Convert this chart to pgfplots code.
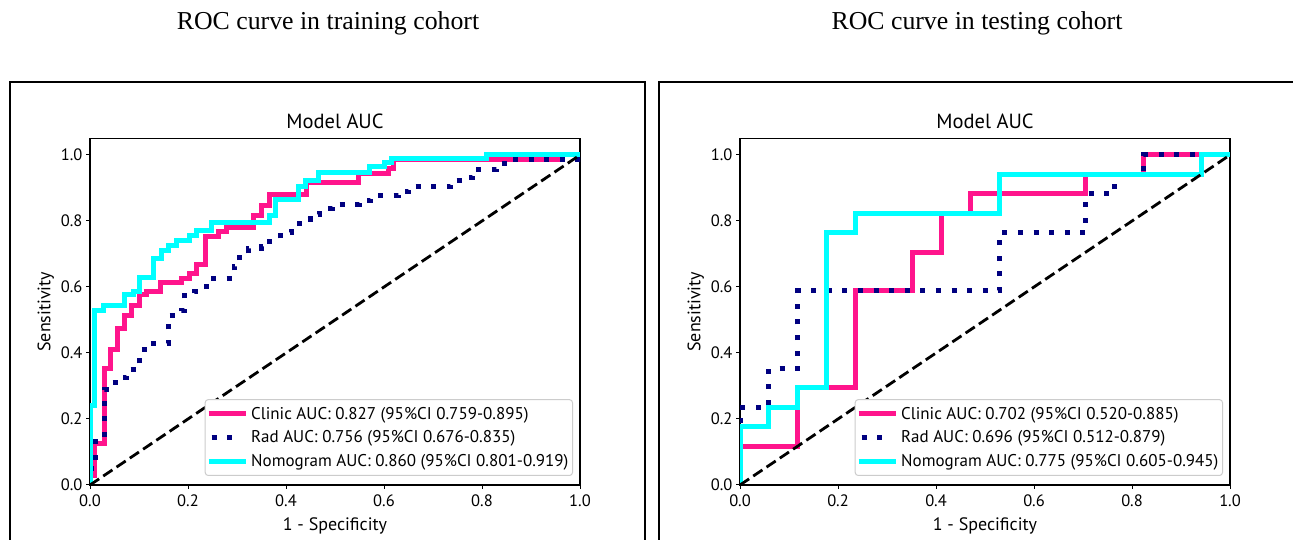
\documentclass[border=0pt]{standalone}
\usepackage{fontspec}
\setmainfont{PT Sans}
\newfontfamily\timesfont{Liberation Serif}
\usepackage{pgfplots}
\usepackage{pgfplotstable}
\pgfplotsset{compat=1.18}

\definecolor{clinic}{RGB}{255,20,140}
\definecolor{nomo}{RGB}{0,255,255}
\definecolor{rad}{RGB}{0,0,128}

% step corners: right end of each horizontal run (const plot mark right)
\pgfplotstableread{
x y
0 0
0.010 0.030
0.029 0.126
0.041 0.354
0.057 0.410
0.071 0.475
0.085 0.515
0.100 0.545
0.116 0.576
0.143 0.586
0.187 0.613
0.204 0.626
0.218 0.641
0.235 0.667
0.262 0.752
0.279 0.768
0.333 0.781
0.350 0.818
0.366 0.848
0.442 0.879
0.548 0.916
0.609 0.944
0.620 0.960
0.960 0.985
1 1
}\clintrain
\pgfplotstableread{
x y
0 0
0.012 0.050
0.029 0.140
0.040 0.290
0.058 0.310
0.075 0.325
0.102 0.350
0.119 0.410
0.160 0.430
0.187 0.515
0.192 0.530
0.214 0.573
0.237 0.586
0.252 0.601
0.294 0.626
0.305 0.662
0.323 0.697
0.350 0.717
0.367 0.722
0.388 0.747
0.412 0.765
0.427 0.780
0.449 0.806
0.469 0.821
0.494 0.838
0.549 0.851
0.573 0.862
0.629 0.876
0.649 0.889
0.736 0.904
0.760 0.922
0.781 0.932
0.829 0.957
0.853 0.973
1 0.987
1 1
}\radtrain
\pgfplotstableread{
x y
0 0
0.010 0.242
0.027 0.530
0.071 0.545
0.088 0.576
0.100 0.586
0.129 0.630
0.145 0.687
0.160 0.712
0.177 0.727
0.204 0.742
0.218 0.755
0.248 0.771
0.367 0.795
0.378 0.818
0.425 0.866
0.439 0.904
0.466 0.922
0.571 0.947
0.602 0.965
0.616 0.977
0.810 0.988
1 1
}\nomotrain
\pgfplotstableread{
x y
0 0
0.118 0.118
0.235 0.294
0.353 0.588
0.412 0.706
0.471 0.824
0.706 0.882
0.824 0.941
1 1
}\clintest
\pgfplotstableread{
x y
0 0
0.059 0.235
0.118 0.353
0.529 0.588
0.706 0.765
0.765 0.882
0.824 0.941
1 1
}\radtest
\pgfplotstableread{
x y
0 0
0.059 0.176
0.118 0.235
0.176 0.294
0.235 0.765
0.529 0.824
0.941 0.941
1 1
}\nomotest

\pgfplotsset{
  rocaxis/.style={
    scale only axis, width=490pt, height=346.5pt,
    xmin=0, xmax=1, ymin=0, ymax=1.05,
    xtick={0,0.2,0.4,0.6,0.8,1}, ytick={0,0.2,0.4,0.6,0.8,1},
    tick align=outside, tick pos=left, major tick length=4pt,
    every tick/.style={black, line width=1pt},
    axis line style={line width=1.2pt},
    /pgf/number format/assume math mode=true,
    /pgf/number format/fixed, /pgf/number format/fixed zerofill,
    /pgf/number format/precision=1,
    ticklabel style={font=\fontsize{16.5}{19}\selectfont},
    xticklabel style={yshift=-2pt},
    title={Model AUC},
    title style={font=\fontsize{20.5}{24}\selectfont, anchor=base, yshift=3.5pt},
    xlabel={1 - Specificity}, ylabel={Sensitivity},
    label style={font=\fontsize{18}{21}\selectfont},
    xlabel style={yshift=-4pt},
    legend cell align=left,
    legend style={at={(1,0)}, anchor=south east, xshift=-7pt, yshift=9pt,
      draw=black!20, line width=1pt, rounded corners=3pt,
      font=\fontsize{17}{20}\selectfont, row sep=6pt, inner xsep=1pt, inner ysep=5.5pt,
      nodes={inner xsep=3pt}},
    legend image code/.code={\draw[#1] (0pt,0pt) -- (37pt,0pt);},
  },
  step/.style={const plot mark right, no marks, line width=5pt},
  radstep/.style={const plot mark right, no marks, line width=5pt, color=rad,
    dash pattern=on 5pt off 10.6pt, line cap=butt,
    legend image code/.code={\draw[##1] (3pt,0pt) -- (26pt,0pt);}},
  chance/.style={black, line width=2.8pt, dash pattern=on 11pt off 5pt, forget plot},
}

\begin{document}
\begin{tikzpicture}
\useasboundingbox (0,0) rectangle (1293pt,540pt);
\clip (0,0) rectangle (1293pt,540pt);
\fill[white] (0,0) rectangle (1293pt,540pt);
\draw[line width=1.5pt] (10pt,-10pt) rectangle (645pt,458pt);
\draw[line width=1.5pt] (659pt,-10pt) rectangle (1310pt,458pt);
\node[font=\timesfont\fontsize{25.8}{30}\selectfont, anchor=base] at (328pt,510.7pt) {ROC curve in training cohort};
\node[font=\timesfont\fontsize{25.8}{30}\selectfont, anchor=base] at (977pt,510.7pt) {ROC curve in testing cohort};

\begin{axis}[rocaxis, at={(90pt,55pt)}, anchor=south west]
  \addplot[step, clinic] table {\clintrain};
  \addlegendentry{Clinic AUC: 0.827 (95\%CI 0.759-0.895)}
  \addplot[radstep] table {\radtrain};
  \addlegendentry{Rad AUC: 0.756 (95\%CI 0.676-0.835)}
  \addplot[step, nomo] table {\nomotrain};
  \addlegendentry{Nomogram AUC: 0.860 (95\%CI 0.801-0.919)}
  \addplot[chance] coordinates {(0,0) (1,1)};
\end{axis}

\begin{axis}[rocaxis, at={(740pt,55pt)}, anchor=south west]
  \addplot[step, clinic] table {\clintest};
  \addlegendentry{Clinic AUC: 0.702 (95\%CI 0.520-0.885)}
  \addplot[radstep] table {\radtest};
  \addlegendentry{Rad AUC: 0.696 (95\%CI 0.512-0.879)}
  \addplot[step, nomo] table {\nomotest};
  \addlegendentry{Nomogram AUC: 0.775 (95\%CI 0.605-0.945)}
  \addplot[chance] coordinates {(0,0) (1,1)};
\end{axis}
\end{tikzpicture}
\end{document}
